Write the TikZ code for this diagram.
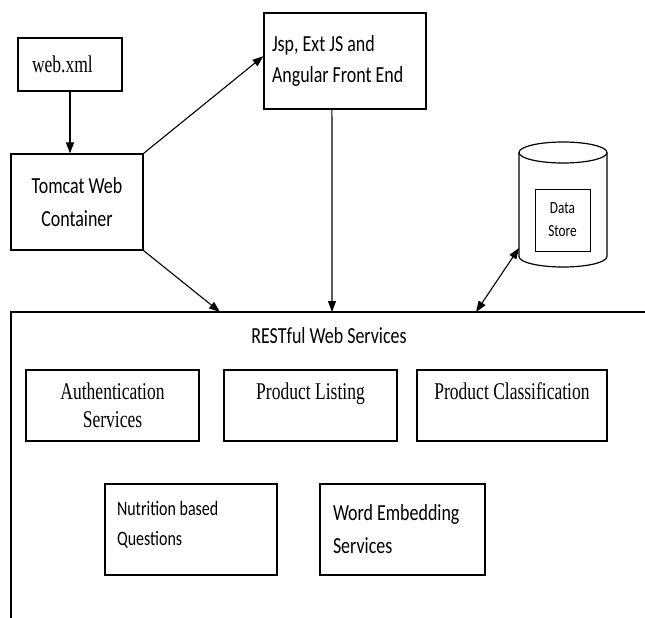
\documentclass[tikz,border=0pt]{standalone}
\usepackage{fontspec}
\usetikzlibrary{arrows.meta,calc}
\newfontfamily\calfont[FakeStretch=0.78]{Carlito}
\newfontfamily\tmsfont[FakeStretch=0.73]{Liberation Serif}
\newcommand\natsp{\spaceskip=0pt\xspaceskip=0pt\relax}
\begin{document}
\begin{tikzpicture}[x=1pt,y=-1pt,
  box/.style={draw, line width=1.2pt, inner sep=0pt},
  arr/.style={-{Triangle[length=11pt,width=8pt]}, line width=1.1pt},
  darr/.style={{Triangle[length=11pt,width=8pt]}-{Triangle[length=11pt,width=8pt]}, line width=1.1pt},
  sans/.style={font=\calfont\fontsize{23}{33}\selectfont},
  serif/.style={font=\tmsfont\fontsize{24}{28}\selectfont}]
\useasboundingbox (0,0) rectangle (645,618);

% top boxes
\node[box, serif, minimum width=104pt, minimum height=53pt, text width=76pt, align=left] (web) at (70,64.5) {web.xml};
\node[box, sans, minimum width=132pt, minimum height=96pt, align=center] (tomcat) at (77,202) {Tomcat Web\\Container};
\node[box, font=\calfont\fontsize{23}{31}\selectfont, minimum width=162pt, minimum height=96pt, text width=146pt, align=left] (jsp) at (345,61) {\natsp Jsp, Ext JS and\\\natsp Angular Front End};

% data store cylinder
\draw[line width=1.2pt] (519,152.5) -- (519,256.5) arc[start angle=180, end angle=360, x radius=44pt, y radius=10.5pt] -- (607,152.5);
\draw[line width=1.2pt] (563,152.5) ellipse [x radius=44pt, y radius=10.5pt];
\node[box, line width=1pt, minimum width=55pt, minimum height=62pt, font=\calfont\fontsize{17}{23}\selectfont, align=center] (ds) at (562.5,220) {Data\\Store};
\coordinate (cylbl) at (519,248);

% RESTful frame
\coordinate (frtl) at (11,312);
\coordinate (frbot) at (11,618);
\coordinate (frright) at (645,312);
\draw[line width=1.2pt] (frbot) -- (frtl) -- (frright);
\node[sans] (rest) at (329,336) {RESTful Web Services};
\coordinate (t1) at (220,312);
\coordinate (t2) at (332,312);
\coordinate (t3) at (476,312);

% service boxes
\node[box, serif, minimum width=173pt, minimum height=71pt, align=center] (auth) at (112.5,405.5) {Authentication\\Services};
\node[box, serif, minimum width=173pt, minimum height=71pt, align=center] (plist) at (310.5,405.5) {Product Listing\\\mbox{}};
\node[box, serif, minimum width=190pt, minimum height=71pt, align=center] (pclass) at (512,405.5) {Product Classification\\\mbox{}};
\node[box, font=\calfont\fontsize{20.5}{30}\selectfont, minimum width=172pt, minimum height=91pt, text width=148pt, align=left] (nut) at (191,529.5) {\natsp Nutrition based\\\natsp Questions\\[-18pt]\mbox{}};
\node[box, sans, minimum width=165pt, minimum height=91pt, text width=139pt, align=left] (word) at (402.5,529.5) {\natsp Word Embedding\\\natsp Services};

% connectors
\draw[arr] (web.south) -- (web.south |- tomcat.north);
\draw[arr] (tomcat.north east) -- ($(jsp.north west)!0.45!(jsp.south west)$);
\draw[arr] (tomcat.south east) -- (t1);
\draw[arr] ($(jsp.south west)!0.42!(jsp.south east)$) -- (t2);
\draw[darr] (t3) -- (cylbl);
\end{tikzpicture}
\end{document}
